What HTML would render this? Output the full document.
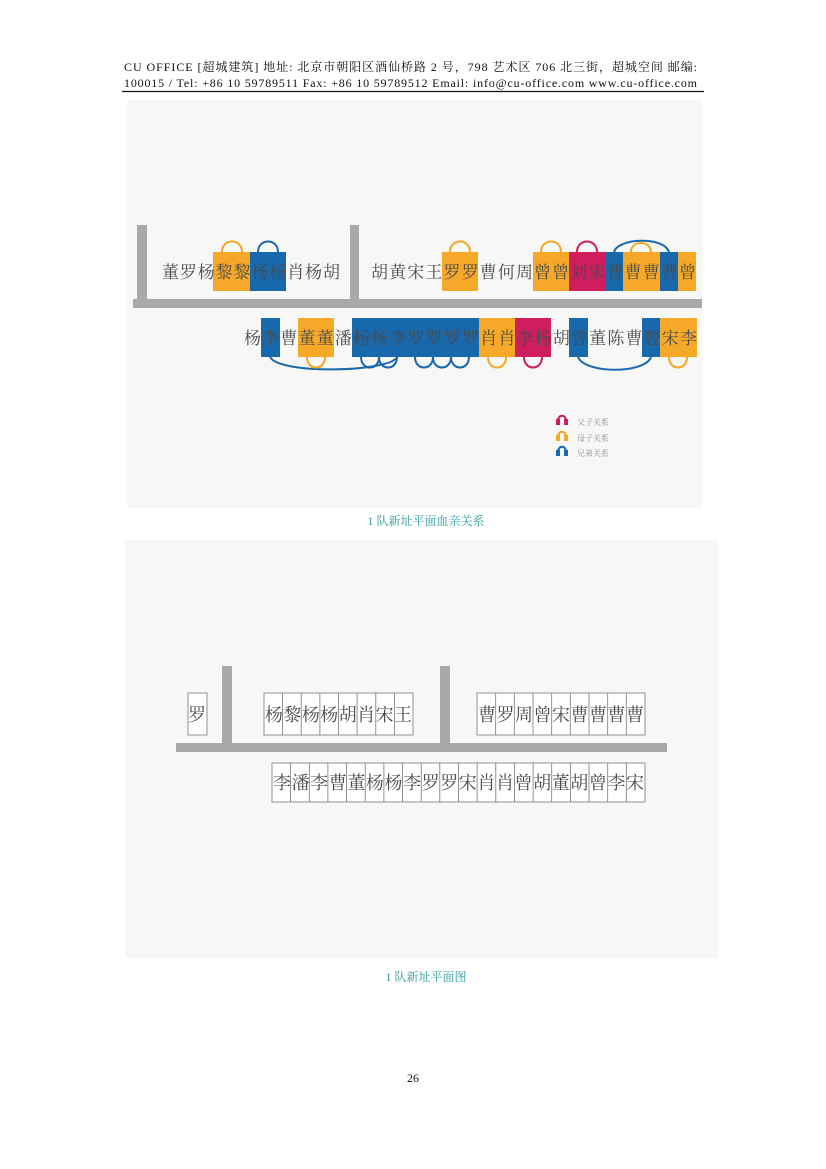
<!DOCTYPE html>
<html><head><meta charset="utf-8"><style>
html,body{margin:0;padding:0;background:#fff;}
body{width:826px;height:1169px;position:relative;overflow:hidden;}
svg{position:absolute;left:0;top:0;}
</style></head><body>
<svg width="826" height="1169" viewBox="0 0 826 1169" xmlns="http://www.w3.org/2000/svg">
<g font-family="Liberation Serif, Noto Serif CJK SC, serif" font-size="12" fill="#111">
<text x="124" y="71" textLength="573" lengthAdjust="spacing">CU OFFICE [超城建筑]  地址: 北京市朝阳区酒仙桥路 2 号，798 艺术区 706 北三街，超城空间  邮编:</text>
<text x="124" y="87" textLength="573" lengthAdjust="spacing">100015  / Tel: +86 10 59789511   Fax: +86 10 59789512   Email: info@cu-office.com   www.cu-office.com</text>
</g>
<line x1="122" y1="91.5" x2="704" y2="91.5" stroke="#111" stroke-width="1.2"/>

<rect x="127" y="100" width="575" height="408" fill="#f7f7f6"/>
<rect x="137" y="225" width="10" height="78" fill="#a9a9ab"/>
<rect x="350" y="225" width="9" height="78" fill="#a9a9ab"/>
<rect x="133" y="299" width="569" height="9" fill="#a9a9ab"/>

<g fill="none" stroke-width="2">
<path d="M222 252 C222 238 242 238 242 252" stroke="#f3a724"/>
<path d="M258 252 C258 238 278 238 278 252" stroke="#1868ae"/>
<path d="M450 252 C450 238 470 238 470 252" stroke="#f3a724"/>
<path d="M541 252 C541 238 561 238 561 252" stroke="#f3a724"/>
<path d="M577 252 C577 238 597 238 597 252" stroke="#cf1d5d"/>
<path d="M614 252 C618 238 664 236 669 252" stroke="#1868ae"/>
<path d="M631 252 C631 240 651 240 651 252" stroke="#f3a724"/>
<path d="M270 357 C280 375 390 372 397 357" stroke="#1868ae"/>
<path d="M307 357 C307 371 325 371 325 357" stroke="#f3a724"/>
<path d="M361 357 C361 371 379 371 379 357 C379 371 397 371 397 357" stroke="#1868ae"/>
<path d="M415 357 C415 371 433 371 433 357 C433 371 451 371 451 357 C451 371 469 371 469 357" stroke="#1868ae"/>
<path d="M488 357 C488 371 506 371 506 357" stroke="#f3a724"/>
<path d="M524 357 C524 371 542 371 542 357" stroke="#cf1d5d"/>
<path d="M578 357 C585 374 645 374 651 357" stroke="#1868ae"/>
<path d="M669 357 C669 371 687 371 687 357" stroke="#f3a724"/>
</g>

<rect x="213" y="252" width="37" height="39" fill="#f6a928"/>
<rect x="250" y="252" width="36" height="39" fill="#1868ae"/>
<rect x="442" y="252" width="36" height="39" fill="#f6a928"/>
<rect x="533" y="252" width="36" height="39" fill="#f6a928"/>
<rect x="569" y="252" width="36" height="39" fill="#cf1d5d"/>
<rect x="605" y="252" width="18" height="39" fill="#1868ae"/>
<rect x="623" y="252" width="37" height="39" fill="#f6a928"/>
<rect x="660" y="252" width="18" height="39" fill="#1868ae"/>
<rect x="678" y="252" width="18" height="39" fill="#f6a928"/>

<rect x="261" y="318" width="19" height="39" fill="#1868ae"/>
<rect x="298" y="318" width="36" height="39" fill="#f6a928"/>
<rect x="352" y="318" width="127" height="39" fill="#1868ae"/>
<rect x="479" y="318" width="36" height="39" fill="#f6a928"/>
<rect x="515" y="318" width="36" height="39" fill="#cf1d5d"/>
<rect x="569" y="318" width="19" height="39" fill="#1868ae"/>
<rect x="642" y="318" width="18" height="39" fill="#1868ae"/>
<rect x="660" y="318" width="37" height="39" fill="#f6a928"/>

<g font-family="Liberation Serif, Noto Serif CJK SC, serif" font-size="17" fill="#4a4a4a">
<text x="162" y="278" textLength="178" lengthAdjust="spacing">董罗杨黎黎杨杨肖杨胡</text>
<text x="371" y="278" textLength="325" lengthAdjust="spacing">胡黄宋王罗罗曹何周曾曾刘宋曹曹曹曹曾</text>
<text x="244" y="344" textLength="453" lengthAdjust="spacing">杨李曹董董潘杨杨李罗罗罗罗肖肖李杨胡曾董陈曹曾宋李</text>
</g>

<g fill="none" stroke-width="2">
<path d="M558 421 C558 414 566 414 566 421" stroke="#cf1d5d"/>
<path d="M558 437 C558 430 566 430 566 437" stroke="#f3a724"/>
<path d="M558 452 C558 445 566 445 566 452" stroke="#1868ae"/>
</g>
<rect x="556" y="419" width="4" height="6" fill="#cf1d5d"/><rect x="564" y="419" width="4" height="6" fill="#cf1d5d"/>
<rect x="556" y="435" width="4" height="6" fill="#f6a928"/><rect x="564" y="435" width="4" height="6" fill="#f6a928"/>
<rect x="556" y="450" width="4" height="6" fill="#1868ae"/><rect x="564" y="450" width="4" height="6" fill="#1868ae"/>
<g font-family="Liberation Serif, Noto Serif CJK SC, serif" font-size="8" fill="#888">
<text x="577" y="425">父子关系</text>
<text x="577" y="441">母子关系</text>
<text x="577" y="456">兄弟关系</text>
</g>

<text x="426" y="525" text-anchor="middle" font-family="Liberation Serif, Noto Serif CJK SC, serif" font-size="12" fill="#2a9aa0">1 队新址平面血亲关系</text>

<rect x="125" y="540" width="593" height="418" fill="#f7f7f6"/>
<rect x="222" y="666" width="10" height="82" fill="#a9a9ab"/>
<rect x="440" y="666" width="10" height="82" fill="#a9a9ab"/>
<rect x="176" y="743" width="491" height="9" fill="#a9a9ab"/>

<g fill="#fff" stroke="#777" stroke-width="0.8">
<rect x="188" y="693" width="19" height="42"/>
<rect x="264" y="693" width="149" height="42"/>
<rect x="477" y="693" width="168" height="42"/>
<rect x="272" y="763" width="373" height="39"/>
</g>
<g stroke="#777" stroke-width="0.8">
<path d="M282.6 693v42M301.2 693v42M319.9 693v42M338.5 693v42M357.1 693v42M375.8 693v42M394.4 693v42"/>
<path d="M495.7 693v42M514.3 693v42M533 693v42M551.7 693v42M570.3 693v42M589 693v42M607.7 693v42M626.3 693v42"/>
<path d="M290.6 763v39M309.3 763v39M327.9 763v39M346.6 763v39M365.2 763v39M383.9 763v39M402.5 763v39M421.2 763v39M439.8 763v39M458.5 763v39M477.1 763v39M495.8 763v39M514.4 763v39M533.1 763v39M551.7 763v39M570.4 763v39M589 763v39M607.7 763v39M626.3 763v39"/>
</g>
<g font-family="Liberation Serif, Noto Serif CJK SC, serif" font-size="18" fill="#4a4a4a">
<text x="188" y="721">罗</text>
<text x="265" y="721" textLength="147" lengthAdjust="spacing">杨黎杨杨胡肖宋王</text>
<text x="478" y="721" textLength="166" lengthAdjust="spacing">曹罗周曾宋曹曹曹曹</text>
<text x="273" y="789" textLength="371" lengthAdjust="spacing">李潘李曹董杨杨李罗罗宋肖肖曾胡董胡曾李宋</text>
</g>

<text x="426" y="981" text-anchor="middle" font-family="Liberation Serif, Noto Serif CJK SC, serif" font-size="12" fill="#2a9aa0">1 队新址平面图</text>
<text x="413" y="1082" text-anchor="middle" font-family="Liberation Serif, serif" font-size="12" fill="#111">26</text>
</svg>
</body></html>
